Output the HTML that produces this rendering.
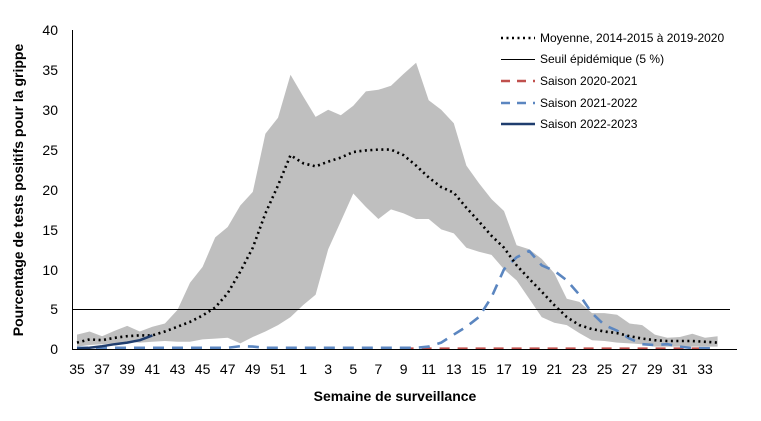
<!DOCTYPE html>
<html><head><meta charset="utf-8"><style>
html,body{margin:0;padding:0;background:#fff;}
svg{display:block;font-family:"Liberation Sans",Arial,sans-serif;}
</style></head><body>
<svg id="c" width="761" height="421" viewBox="0 0 761 421" xmlns="http://www.w3.org/2000/svg">
<g id="plot"></g>
<line x1="72.5" y1="30" x2="72.5" y2="349" stroke="#000" stroke-width="1"/>
<line x1="72" y1="349.5" x2="737" y2="349.5" stroke="#000" stroke-width="1"/>
<g font-size="14" fill="#000" text-anchor="end">
<text x="58" y="35">40</text><text x="58" y="75">35</text><text x="58" y="115">30</text><text x="58" y="155">25</text><text x="58" y="195">20</text><text x="58" y="235">15</text><text x="58" y="275">10</text><text x="58" y="314">5</text><text x="58" y="354">0</text>
</g>
<g id="xl" font-size="14" fill="#000" text-anchor="middle"></g>
<text x="395" y="401" font-size="14" font-weight="bold" text-anchor="middle">Semaine de surveillance</text>
<text transform="translate(23,190) rotate(-90)" font-size="14" font-weight="bold" text-anchor="middle">Pourcentage de tests positifs pour la grippe</text>
<g font-size="12" fill="#000">
<line x1="501" y1="38" x2="535" y2="38" stroke="#000" stroke-width="2.5" stroke-dasharray="2,3.5"/>
<text x="540" y="42">Moyenne, 2014-2015 à 2019-2020</text>
<line x1="501" y1="59.5" x2="535" y2="59.5" stroke="#000" stroke-width="1"/>
<text x="540" y="63">Seuil épidémique (5 %)</text>
<line x1="501" y1="81" x2="535" y2="81" stroke="#c0504d" stroke-width="2.5" stroke-dasharray="9,7"/>
<text x="540" y="85">Saison 2020-2021</text>
<line x1="501" y1="103" x2="535" y2="103" stroke="#5b86c0" stroke-width="2.5" stroke-dasharray="9,7"/>
<text x="540" y="107">Saison 2021-2022</text>
<line x1="501" y1="124" x2="535" y2="124" stroke="#1f3d6e" stroke-width="2.5"/>
<text x="540" y="128">Saison 2022-2023</text>
</g>
</svg>
<script>
var X=function(i){return 77+12.56*i;},Y=function(v){return 349-7.975*v;};
var up=[1.8,2.2,1.6,2.3,2.9,2.2,2.8,3.2,4.9,8.3,10.3,14,15.3,18,19.7,27,29,34.4,31.7,29.1,30,29.3,30.5,32.3,32.5,33,34.5,35.9,31.2,30,28.3,23,20.8,18.8,17.3,13,12.5,11.3,9.5,6.3,5.9,4.5,4.5,4.3,3.2,3,1.8,1.4,1.5,1.9,1.4,1.6];
var lo=[0.3,0.5,0.6,0.7,0.9,0.8,0.9,1.0,0.9,0.9,1.2,1.3,1.4,0.7,1.5,2.2,3,4,5.5,6.8,12.5,16,19.5,17.8,16.3,17.5,17,16.3,16.3,15,14.5,12.7,12.2,11.8,10,8.6,6.3,4,3.3,3,2,1.1,1,0.8,0.7,0.6,0.3,0.3,0.3,0.3,0.3,0.3];
var mean=[0.8,1.2,1.1,1.4,1.6,1.7,1.7,2.2,2.8,3.4,4.2,5.2,7,9.7,12.7,17,20.5,24.3,23.3,22.9,23.5,24,24.7,24.9,25,25,24.3,23,21.5,20.3,19.6,17.7,16,14.2,12.7,10.5,8.8,7.2,5.5,4,3,2.5,2.2,2,1.6,1.3,1.1,1,1,1,0.9,0.8];
var b21=[];for(var i=0;i<28;i++)b21.push(i==13?0.35:(i==14?0.3:0.15));
b21=b21.concat([0.3,0.8,1.8,2.8,4,6.5,10,11.5,12.3,10.5,9.8,8.6,6.8,4.5,3,2.3,1.3,0.6,0.5,0.6,0.3,0.1,0.1,0.1]);
var nv=[0.05,0.15,0.35,0.6,0.8,1.1,1.7];
function pts(a,s){s=s||0;return a.map(function(v,i){return X(i+s).toFixed(1)+','+Y(v).toFixed(1);}).join(' ');}
var g='';
var band=pts(up)+' '+lo.map(function(v,i){return [X(i),Y(v)];}).reverse().map(function(p){return p[0].toFixed(1)+','+p[1].toFixed(1);}).join(' ');
g+='<polygon points="'+band+'" fill="#bfbfbf"/>';
g+='<line x1="72" y1="309.5" x2="730" y2="309.5" stroke="#000" stroke-width="1"/>';
var red=[];for(var i=26;i<=50;i++)red.push(0.05);
g+='<polyline points="'+pts(red,26)+'" fill="none" stroke="#c0504d" stroke-width="2.5" stroke-dasharray="10,8"/>';
g+='<polyline points="'+pts(b21)+'" fill="none" stroke="#5b86c0" stroke-width="2.6" stroke-dasharray="11,8" stroke-linejoin="round"/>';
g+='<polyline points="'+pts(mean)+'" fill="none" stroke="#000" stroke-width="2.6" stroke-dasharray="2,3.5" stroke-linejoin="round"/>';
g+='<polyline points="'+pts(nv)+'" fill="none" stroke="#1f3d6e" stroke-width="2.5" stroke-linejoin="round"/>';
document.getElementById('plot').innerHTML=g;
var labs=[35,37,39,41,43,45,47,49,51,1,3,5,7,9,11,13,15,17,19,21,23,25,27,29,31,33],t='';
labs.forEach(function(w){var i=w>=35?w-35:w+17;t+='<text x="'+X(i).toFixed(1)+'" y="374">'+w+'</text>';});
document.getElementById('xl').innerHTML=t;
</script>
</body></html>
